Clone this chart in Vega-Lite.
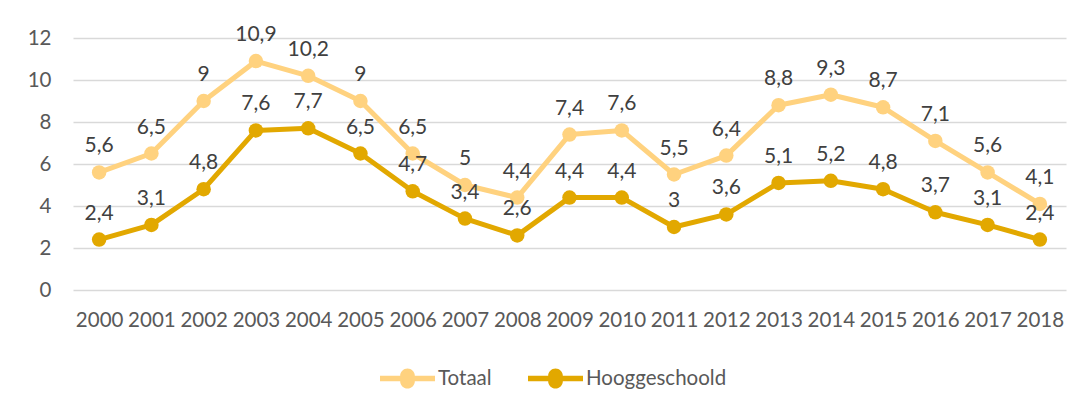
{
  "$schema": "https://vega.github.io/schema/vega-lite/v6.json",
  "width": 993,
  "height": 252,
  "autosize": {"type": "none"},
  "padding": {"left": 73, "top": 38, "right": 14, "bottom": 113},
  "background": "white",
  "config": {
    "view": {"stroke": null},
    "font": "Lato",
    "locale": {"number": {"decimal": ",", "thousands": ".", "grouping": [3], "currency": ["€", ""]}},
    "axis": {"labelFont": "Lato", "labelFontSize": 20.5, "labelColor": "#595959", "domain": false, "ticks": false, "title": null},
    "legend": {"labelFont": "Lato", "labelFontSize": 20.5, "labelColor": "#595959"}
  },
  "data": {
    "values": [
      {"year": "2000", "series": "Totaal", "value": 5.6},
      {"year": "2001", "series": "Totaal", "value": 6.5},
      {"year": "2002", "series": "Totaal", "value": 9},
      {"year": "2003", "series": "Totaal", "value": 10.9},
      {"year": "2004", "series": "Totaal", "value": 10.2},
      {"year": "2005", "series": "Totaal", "value": 9},
      {"year": "2006", "series": "Totaal", "value": 6.5},
      {"year": "2007", "series": "Totaal", "value": 5},
      {"year": "2008", "series": "Totaal", "value": 4.4},
      {"year": "2009", "series": "Totaal", "value": 7.4},
      {"year": "2010", "series": "Totaal", "value": 7.6},
      {"year": "2011", "series": "Totaal", "value": 5.5},
      {"year": "2012", "series": "Totaal", "value": 6.4},
      {"year": "2013", "series": "Totaal", "value": 8.8},
      {"year": "2014", "series": "Totaal", "value": 9.3},
      {"year": "2015", "series": "Totaal", "value": 8.7},
      {"year": "2016", "series": "Totaal", "value": 7.1},
      {"year": "2017", "series": "Totaal", "value": 5.6},
      {"year": "2018", "series": "Totaal", "value": 4.1},
      {"year": "2000", "series": "Hooggeschoold", "value": 2.4},
      {"year": "2001", "series": "Hooggeschoold", "value": 3.1},
      {"year": "2002", "series": "Hooggeschoold", "value": 4.8},
      {"year": "2003", "series": "Hooggeschoold", "value": 7.6},
      {"year": "2004", "series": "Hooggeschoold", "value": 7.7},
      {"year": "2005", "series": "Hooggeschoold", "value": 6.5},
      {"year": "2006", "series": "Hooggeschoold", "value": 4.7},
      {"year": "2007", "series": "Hooggeschoold", "value": 3.4},
      {"year": "2008", "series": "Hooggeschoold", "value": 2.6},
      {"year": "2009", "series": "Hooggeschoold", "value": 4.4},
      {"year": "2010", "series": "Hooggeschoold", "value": 4.4},
      {"year": "2011", "series": "Hooggeschoold", "value": 3},
      {"year": "2012", "series": "Hooggeschoold", "value": 3.6},
      {"year": "2013", "series": "Hooggeschoold", "value": 5.1},
      {"year": "2014", "series": "Hooggeschoold", "value": 5.2},
      {"year": "2015", "series": "Hooggeschoold", "value": 4.8},
      {"year": "2016", "series": "Hooggeschoold", "value": 3.7},
      {"year": "2017", "series": "Hooggeschoold", "value": 3.1},
      {"year": "2018", "series": "Hooggeschoold", "value": 2.4}
    ]
  },
  "encoding": {
    "x": {"field": "year", "type": "ordinal", "scale": {"type": "point", "padding": 0.5},
          "axis": {"labelAngle": 0, "labelPadding": 20, "grid": false}},
    "y": {"field": "value", "type": "quantitative", "scale": {"domain": [0, 12], "nice": false},
          "axis": {"values": [0, 2, 4, 6, 8, 10, 12], "labelPadding": 22, "grid": true, "gridColor": "#D9D9D9", "gridWidth": 1.5}}
  },
  "layer": [
    {
      "mark": {"type": "line", "strokeWidth": 5, "strokeJoin": "round"},
      "encoding": {
        "color": {"field": "series", "type": "nominal", "scale": {"domain": ["Totaal", "Hooggeschoold"], "range": ["#FFD27F", "#E2A800"]},
          "legend": {"orient": "none", "legendX": 316, "legendY": 322, "direction": "horizontal", "title": null,
                     "symbolType": "M-1.5,-0.15 H-0.4 A0.4,0.4 0 0,1 0.4,-0.15 H1.5 V0.15 H0.4 A0.4,0.4 0 0,1 -0.4,0.15 H-1.5 Z",
                     "symbolSize": 1344, "symbolOpacity": 1, "symbolStrokeWidth": 0, "columnPadding": 36, "labelOffset": 12}}
      }
    },
    {
      "mark": {"type": "point", "filled": true, "opacity": 1, "size": 210},
      "encoding": {
        "color": {"field": "series", "type": "nominal", "scale": {"domain": ["Totaal", "Hooggeschoold"], "range": ["#FFD27F", "#E2A800"]},
          "legend": {"orient": "none", "legendX": 316, "legendY": 322, "direction": "horizontal", "title": null,
                     "symbolType": "M-1.5,-0.15 H-0.4 A0.4,0.4 0 0,1 0.4,-0.15 H1.5 V0.15 H0.4 A0.4,0.4 0 0,1 -0.4,0.15 H-1.5 Z",
                     "symbolSize": 1344, "symbolOpacity": 1, "symbolStrokeWidth": 0, "columnPadding": 36, "labelOffset": 12}}
      }
    },
    {
      "mark": {"type": "text", "baseline": "middle", "dy": -26, "fontSize": 21, "color": "#404040", "font": "Lato"},
      "encoding": {
        "text": {"field": "value", "type": "quantitative", "format": ".3~g"}
      }
    }
  ]
}
